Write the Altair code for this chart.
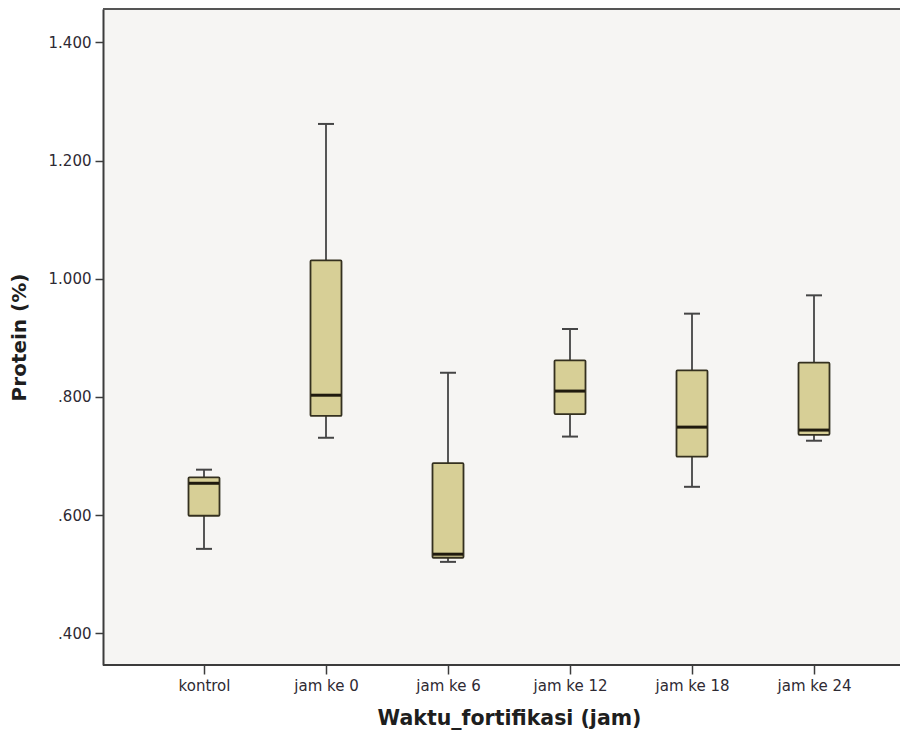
import altair as alt
import pandas as pd

categories = ["kontrol", "jam ke 0", "jam ke 6", "jam ke 12", "jam ke 18", "jam ke 24"]
whisker_low = [0.543, 0.731, 0.521, 0.733, 0.648, 0.726]
q1 = [0.599, 0.768, 0.528, 0.771, 0.699, 0.736]
median = [0.654, 0.803, 0.534, 0.810, 0.749, 0.744]
q3 = [0.664, 1.031, 0.688, 0.862, 0.845, 0.858]
whisker_high = [0.677, 1.262, 0.841, 0.915, 0.941, 0.972]
y_ticks = [0.4, 0.6, 0.8, 1.0, 1.2, 1.4]

df = pd.DataFrame({
    "cat": categories, "lo": whisker_low, "q1": q1, "med": median,
    "q3": q3, "hi": whisker_high,
})

PAD_L, PAD_T = 95, 1
W, H = 892 - PAD_L, 656
PAD_B = 724 - PAD_T - H
FONT = "DejaVu Sans"

xscale = alt.Scale(type="point", domain=categories, range=[101, 711], padding=0)
yscale = alt.Scale(domain=[0.3465, 1.4565], nice=False, zero=False)

xenc = alt.X("cat:N", scale=xscale, sort=categories,
             axis=alt.Axis(title="Waktu_fortifikasi (jam)", labelAngle=0, domain=False,
                           tickSize=9, tickWidth=1.5, tickColor="#3c3c3c",
                           labelPadding=4, labelFont=FONT, labelFontSize=15,
                           labelColor="#2e2a33", titleFont=FONT, titleFontSize=20.5,
                           titleFontWeight="bold", titleColor="#1e1e1e",
                           titleY=53, titleBaseline="middle"))

yaxis = alt.Axis(title="Protein (%)", values=y_ticks, grid=False, domain=True,
                 domainColor="#3c3c3c", domainWidth=2,
                 tickSize=8, tickWidth=1.5, tickColor="#3c3c3c", labelPadding=4,
                 labelExpr="datum.value < 1 ? substring(format(datum.value, '.3f'), 1) : format(datum.value, '.3f')",
                 labelFont=FONT, labelFontSize=15, labelColor="#2e2a33",
                 titleFont=FONT, titleFontSize=20, titleFontWeight="bold",
                 titleColor="#1e1e1e", titleX=-84, titleBaseline="middle")

base = alt.Chart(df)

whisk = base.mark_rule(color="#454545", strokeWidth=1.8).encode(
    x=xenc, y=alt.Y("lo:Q", scale=yscale, axis=yaxis), y2="hi:Q")

box = base.mark_bar(size=31, fill="#d7cf96", stroke="#34301f", strokeWidth=1.8,
                    cornerRadius=1, opacity=1).encode(x="cat:N", y="q1:Q", y2="q3:Q")

med = base.mark_tick(size=30, thickness=3, color="#1f1a0e", opacity=1).encode(
    x="cat:N", y="med:Q")

cap_lo = base.mark_tick(size=16, thickness=2, color="#454545", opacity=1).encode(
    x="cat:N", y="lo:Q")
cap_hi = base.mark_tick(size=16, thickness=2, color="#454545", opacity=1).encode(
    x="cat:N", y="hi:Q")

top = alt.Chart(df).mark_rule(color="#555555", strokeWidth=2).encode(
    x=alt.value(0), x2=alt.value(W), y=alt.value(0))
bottom = alt.Chart(df).mark_rule(color="#3c3c3c", strokeWidth=2).encode(
    x=alt.value(0), x2=alt.value(W), y=alt.value(H))

chart = alt.layer(whisk, box, med, cap_lo, cap_hi, top, bottom).properties(
    width=W, height=H,
    autosize=alt.AutoSizeParams(type="none"),
    padding={"left": PAD_L, "top": PAD_T, "right": 0, "bottom": PAD_B},
    background="white",
).configure_view(fill="#f6f5f3", stroke=None)

chart.save("out.html", embed_options={"renderer": "svg", "actions": False})
